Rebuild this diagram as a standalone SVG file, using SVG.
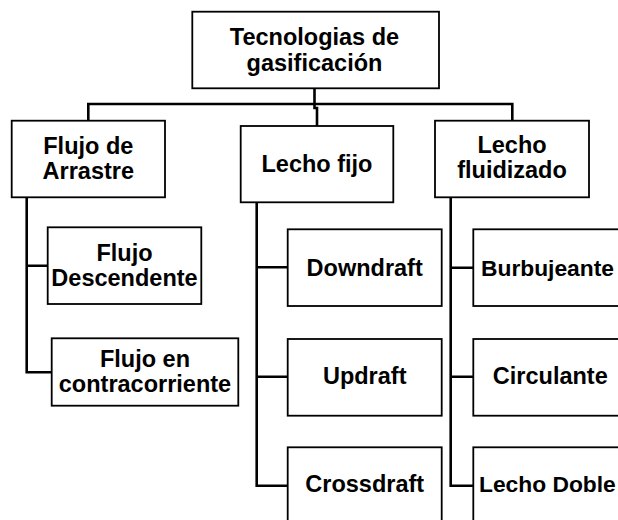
<svg xmlns="http://www.w3.org/2000/svg" width="618" height="520" viewBox="0 0 618 520">
<style>
.box{fill:#fff;stroke:#000;stroke-width:1.8}
.lbl{font-family:"Liberation Sans",Arial,sans-serif;font-weight:bold;font-size:23.5px;fill:#000;text-anchor:middle}
.lbs{font-family:"Liberation Sans",Arial,sans-serif;font-weight:bold;font-size:22.8px;fill:#000;text-anchor:start}
.con{fill:none;stroke:#000;stroke-width:2.6}
</style>
<rect width="618" height="520" fill="#fff"/>
<g id="connectors">
<path class="con" d="M314.5 88.3 V108 H317 V126"/>
<path class="con" d="M88.3 120.7 V104 H512.3 V120.7"/>
<path class="con" d="M26.7 197.3 V372.3 H51.7 M26.7 265.7 H47.7"/>
<path class="con" d="M256.7 202.3 V485.7 H287.7 M256.7 267.3 H287.7 M256.7 376.7 H287.7"/>
<path class="con" d="M450.7 197.3 V485.7 H473.3 M450.7 267.7 H473.3 M450.7 376.7 H473.3"/>
</g>
<g id="root">
<rect class="box" x="192.3" y="11.7" width="246.7" height="76.6"/>
<text class="lbl" x="314.5" y="45">Tecnologias de</text>
<text class="lbl" x="314.5" y="70.7">gasificación</text>
</g>
<g id="flujo-arrastre">
<rect class="box" x="11.7" y="120.7" width="153.3" height="76.6"/>
<text class="lbl" x="88.3" y="154">Flujo de</text>
<text class="lbl" x="88.3" y="179.3">Arrastre</text>
</g>
<g id="lecho-fijo">
<rect class="box" x="240.7" y="126" width="152.6" height="76.3"/>
<text class="lbl" x="317" y="172">Lecho fijo</text>
</g>
<g id="lecho-fluidizado">
<rect class="box" x="435" y="120.7" width="154" height="76.6"/>
<text class="lbl" x="512" y="153.3">Lecho</text>
<text class="lbl" x="512" y="178.3">fluidizado</text>
</g>
<g id="flujo-descendente">
<rect class="box" x="47.7" y="227.3" width="153.6" height="76.7"/>
<text class="lbl" x="124.5" y="260.7">Flujo</text>
<text class="lbl" x="124.5" y="285.7">Descendente</text>
</g>
<g id="flujo-contracorriente">
<rect class="box" x="51.7" y="338.3" width="186.6" height="67.4"/>
<text class="lbl" x="145" y="366.7">Flujo en</text>
<text class="lbl" x="145" y="391.7">contracorriente</text>
</g>
<g id="downdraft">
<rect class="box" x="287.7" y="229.3" width="154" height="76.7"/>
<text class="lbl" x="364.7" y="275.5">Downdraft</text>
</g>
<g id="updraft">
<rect class="box" x="287.7" y="339" width="154" height="76.7"/>
<text class="lbl" x="364.7" y="383.5">Updraft</text>
</g>
<g id="crossdraft">
<rect class="box" x="287.7" y="447.3" width="154" height="76.7"/>
<text class="lbl" x="364.7" y="491.7">Crossdraft</text>
</g>
<g id="burbujeante">
<rect class="box" x="473.3" y="229.3" width="154" height="76.7"/>
<text class="lbs" x="481" y="275.5">Burbujeante</text>
</g>
<g id="circulante">
<rect class="box" x="473.3" y="339" width="154" height="76.7"/>
<text class="lbl" x="550.3" y="383.5">Circulante</text>
</g>
<g id="lecho-doble">
<rect class="box" x="473.3" y="447.3" width="154" height="76.7"/>
<text class="lbs" x="479" y="491.7">Lecho Doble</text>
</g>
</svg>
